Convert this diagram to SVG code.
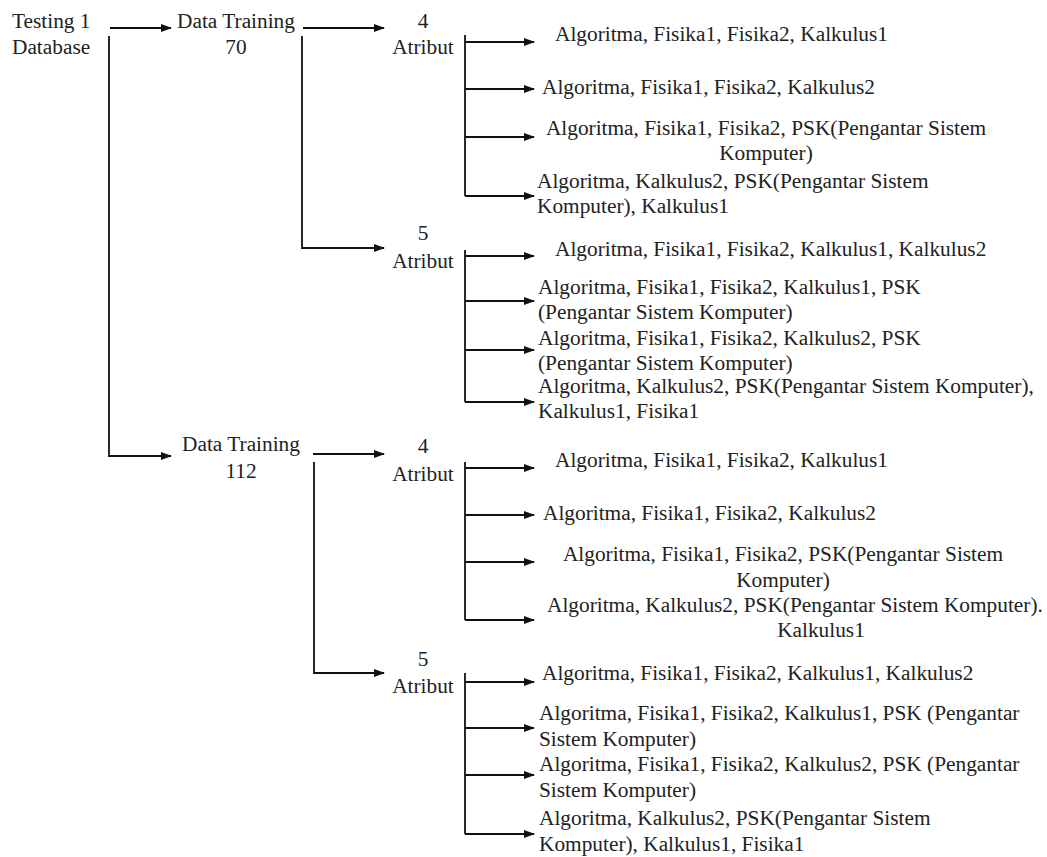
<svg xmlns="http://www.w3.org/2000/svg" width="1047" height="857" viewBox="0 0 1047 857">
<style>
text{font-family:"Liberation Serif","Times New Roman",serif;font-size:21.33px;fill:#222}
.m{text-anchor:middle}
.c{fill:none;stroke:#111;stroke-width:1.8}
.a{marker-end:url(#ah)}
</style>
<defs>
<marker id="ah" markerUnits="userSpaceOnUse" markerWidth="11" markerHeight="9" refX="10" refY="4" orient="auto">
<path d="M0,0 L11,4 L0,8 z" fill="#111"/>
</marker>
</defs>
<rect width="1047" height="857" fill="#fff"/>
<g id="connectors">
<path class="c a" d="M110,28 H171"/>
<path class="c a" d="M109,36 V456 H171"/>
<path class="c a" d="M303,28 H384"/>
<path class="c a" d="M302,36 V248 H384"/>
<path class="c" d="M465,35 V196"/>
<path class="c a" d="M465,42 H534"/>
<path class="c a" d="M465,89 H534"/>
<path class="c a" d="M465,137 H534"/>
<path class="c a" d="M465,196 H534"/>
<path class="c" d="M465,250 V402"/>
<path class="c a" d="M465,256 H534"/>
<path class="c a" d="M465,301 H534"/>
<path class="c a" d="M465,350 H534"/>
<path class="c a" d="M465,402 H534"/>
<path class="c a" d="M313,454 H384"/>
<path class="c a" d="M314,462 V673 H384"/>
<path class="c" d="M465,462 V620"/>
<path class="c a" d="M465,468 H534"/>
<path class="c a" d="M465,515 H534"/>
<path class="c a" d="M465,562 H534"/>
<path class="c a" d="M465,620 H534"/>
<path class="c" d="M465,673 V834"/>
<path class="c a" d="M465,682 H534"/>
<path class="c a" d="M465,728 H534"/>
<path class="c a" d="M465,775 H534"/>
<path class="c a" d="M465,834 H534"/>
</g>
<g id="testing"><text x="12" y="27.5">Testing 1</text><text x="12" y="54">Database</text></g>
<g id="dt70"><text class="m" x="236" y="27.5">Data Training</text><text class="m" x="236" y="54">70</text></g>
<g id="a4top"><text class="m" x="423" y="27.5">4</text><text class="m" x="423" y="54">Atribut</text></g>
<g id="a5top"><text class="m" x="423" y="240">5</text><text class="m" x="423" y="268">Atribut</text></g>
<g id="dt112"><text class="m" x="241" y="451">Data Training</text><text class="m" x="241" y="478">112</text></g>
<g id="a4bot"><text class="m" x="423" y="453">4</text><text class="m" x="423" y="481">Atribut</text></g>
<g id="a5bot"><text class="m" x="423" y="666">5</text><text class="m" x="423" y="693">Atribut</text></g>
<g id="t4r1"><text x="555" y="41">Algoritma, Fisika1, Fisika2, Kalkulus1</text></g>
<g id="t4r2"><text x="542" y="94">Algoritma, Fisika1, Fisika2, Kalkulus2</text></g>
<g id="t4r3"><text class="m" x="766" y="135">Algoritma, Fisika1, Fisika2, PSK(Pengantar Sistem</text><text class="m" x="766" y="160">Komputer)</text></g>
<g id="t4r4"><text x="537" y="188">Algoritma, Kalkulus2, PSK(Pengantar Sistem</text><text x="537" y="213">Komputer), Kalkulus1</text></g>
<g id="t5r1"><text x="555" y="256">Algoritma, Fisika1, Fisika2, Kalkulus1, Kalkulus2</text></g>
<g id="t5r2"><text x="538" y="294">Algoritma, Fisika1, Fisika2, Kalkulus1, PSK</text><text x="538" y="319">(Pengantar Sistem Komputer)</text></g>
<g id="t5r3"><text x="538" y="345">Algoritma, Fisika1, Fisika2, Kalkulus2, PSK</text><text x="538" y="370">(Pengantar Sistem Komputer)</text></g>
<g id="t5r4"><text x="538" y="393">Algoritma, Kalkulus2, PSK(Pengantar Sistem Komputer),</text><text x="538" y="418">Kalkulus1, Fisika1</text></g>
<g id="b4r1"><text x="555" y="467">Algoritma, Fisika1, Fisika2, Kalkulus1</text></g>
<g id="b4r2"><text x="543" y="520">Algoritma, Fisika1, Fisika2, Kalkulus2</text></g>
<g id="b4r3"><text class="m" x="783" y="561">Algoritma, Fisika1, Fisika2, PSK(Pengantar Sistem</text><text class="m" x="783" y="587">Komputer)</text></g>
<g id="b4r4"><text x="547" y="612">Algoritma, Kalkulus2, PSK(Pengantar Sistem Komputer).</text><text class="m" x="821" y="637">Kalkulus1</text></g>
<g id="b5r1"><text x="542" y="680">Algoritma, Fisika1, Fisika2, Kalkulus1, Kalkulus2</text></g>
<g id="b5r2"><text x="539" y="720">Algoritma, Fisika1, Fisika2, Kalkulus1, PSK (Pengantar</text><text x="539" y="746">Sistem Komputer)</text></g>
<g id="b5r3"><text x="539" y="771">Algoritma, Fisika1, Fisika2, Kalkulus2, PSK (Pengantar</text><text x="539" y="797">Sistem Komputer)</text></g>
<g id="b5r4"><text x="539" y="825">Algoritma, Kalkulus2, PSK(Pengantar Sistem</text><text x="539" y="851">Komputer), Kalkulus1, Fisika1</text></g>
</svg>
